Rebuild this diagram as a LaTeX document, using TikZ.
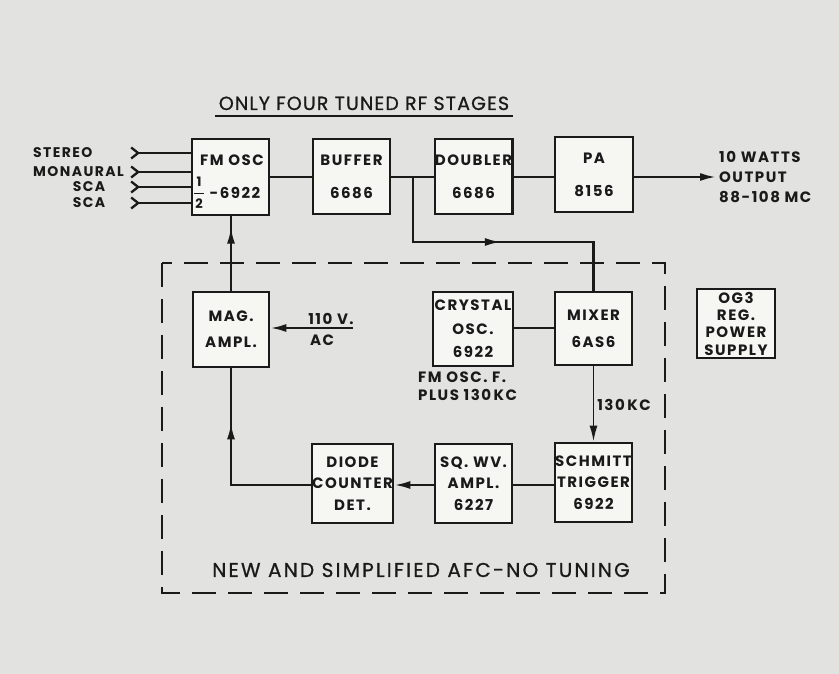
\documentclass[tikz,border=0pt]{standalone}
\usepackage{fontspec}
\setmainfont{Poppins}[LetterSpace=10]
\newfontfamily\titlefont{Poppins}[LetterSpace=6,FakeBold=0.8]
\newfontfamily\afcfont{Poppins}[LetterSpace=11,FakeBold=0.8]
\usetikzlibrary{arrows.meta,decorations.markings}
\definecolor{bg}{RGB}{226,226,224}
\definecolor{boxfill}{RGB}{246,246,243}
\definecolor{ink}{RGB}{26,26,26}
\begin{document}
\begin{tikzpicture}[x=1pt,y=-1pt,
  blk/.style={draw=ink,line width=2.8pt,fill=boxfill,inner sep=0pt,align=center,
    font=\bfseries\fontsize{15}{18}\selectfont,text=ink},
  wire/.style={draw=ink,line width=2.3pt},
  arrowend/.style={-{Latex[length=16pt,width=8pt]}},
  lbl/.style={font=\bfseries\fontsize{15}{18}\selectfont,text=ink,inner sep=0pt},
  inlbl/.style={font=\bfseries\fontsize{14}{16}\selectfont,text=ink,inner sep=0pt},
  midarrow/.style={postaction={decorate},decoration={markings,
    mark=at position #1 with {\arrow{Latex[length=16pt,width=8pt]}}}},
  dashbox/.style={draw=ink,line width=2.6pt,dash pattern=on 24pt off 12pt}
]
\fill[bg] (0,0) rectangle (839,674);
\useasboundingbox (0,0) rectangle (839,674);

% title
\node[text=ink,inner sep=0pt,font=\titlefont\fontsize{19}{21}\selectfont,anchor=base] (title) at (364,110) {ONLY FOUR TUNED RF STAGES};
\draw[wire,line width=1.8pt] (215,116) -- (513,116);

% RF chain
\node[blk,minimum width=77pt,minimum height=76pt] (fm) at (230.5,177) {};
\node[lbl] (fmt) at (232,160) {FM OSC};
\node[lbl,font=\bfseries\fontsize{13}{14}\selectfont] (fa) at (199,182) {1};
\node[lbl,font=\bfseries\fontsize{13}{14}\selectfont] (fb) at (199,204) {2};
\draw[wire,line width=1.6pt] (194,193.5) -- (204,193.5);
\node[lbl] (fmn) at (235,193) {-6922};

\node[blk,minimum width=77pt,minimum height=75pt] (buf) at (351.5,176.5) {BUFFER\\[15pt]6686};
\node[blk,minimum width=77pt,minimum height=75pt] (dbl) at (473.5,176.5) {DOUBLER\\[15pt]6686};
\node[blk,minimum width=78pt,minimum height=75pt] (pa) at (594,174.5) {PA\\[15pt]8156};

\coordinate (out) at (716,177);
\node[lbl,anchor=west,align=left,font=\bfseries\fontsize{15}{20}\selectfont] (outt) at (719,177) {10 WATTS\\OUTPUT\\88-108 MC};

% inputs
\coordinate (in1) at (130,153);
\coordinate (in2) at (130,172);
\coordinate (in3) at (130,187);
\coordinate (in4) at (130,203);
\node[inlbl,anchor=west] (l1) at (33,153) {STEREO};
\node[inlbl,anchor=west] (l2) at (33,172) {MONAURAL};
\node[inlbl] (l3) at (89,187) {SCA};
\node[inlbl] (l4) at (89,203) {SCA};
\foreach \i in {1,2,3,4}
  \draw[wire,{Straight Barb[reversed,length=7pt,width=11pt]}-] (in\i) -- (in\i -| fm.west);

\draw[wire] (fm.east |- 0,177) -- (buf.west |- 0,177);
\draw[wire] (buf.east |- 0,177) -- (dbl.west |- 0,177);
\draw[wire] (dbl.east |- 0,177) -- (pa.west |- 0,177);
\draw[wire,arrowend] (pa.east |- out) -- (out);

% AFC loop
\draw[dashbox] (162,263) rectangle (665,593);
\node[blk,minimum width=76pt,minimum height=75pt] (mag) at (231,329.5) {MAG.\\[8pt]AMPL.};
\node[blk,minimum width=80pt,minimum height=74pt] (xtal) at (473,329) {CRYSTAL\\[5.5pt]OSC.\\[5.5pt]6922};
\node[blk,minimum width=77pt,minimum height=73pt] (mix) at (593.5,328.5) {MIXER\\[9pt]6AS6};
\node[blk,minimum width=79pt,minimum height=79pt] (diode) at (352.5,483.5) {DIODE\\[3.5pt]COUNTER\\[3.5pt]DET.};
\node[blk,minimum width=77pt,minimum height=79pt] (sq) at (473.5,483.5) {SQ. WV.\\[3.5pt]AMPL.\\[3.5pt]6227};
\node[blk,minimum width=77pt,minimum height=79pt] (sch) at (593.5,482.5) {SCHMITT\\[3.5pt]TRIGGER\\[3.5pt]6922};
\node[blk,minimum width=78pt,minimum height=69pt] (ps) at (736,323.5) {OG3\\[-0.7pt]REG.\\[-0.7pt]POWER\\[-0.7pt]SUPPLY};

% branch to mixer
\coordinate (br) at (413,177);
\draw[wire,midarrow=0.52] (br) -- (413,242) -- (mix.north |- 0,242) -- (mix.north);

% mag ampl to fm osc
\draw[wire,midarrow=0.85] (mag.north) -- (fm.south -| mag.north);

% 110 V AC
\coordinate (ac) at (353,328);
\draw[wire,arrowend] (ac) -- (mag.east |- ac);
\node[lbl] (acv) at (331,319) {110 V.};
\node[lbl] (aca) at (322,340) {AC};

% crystal to mixer
\draw[wire] (xtal.east |- 0,328) -- (mix.west |- 0,328);
\node[lbl,anchor=west,align=left,font=\bfseries\fontsize{15}{18}\selectfont] (fmf) at (418,386) {FM OSC. F.\\PLUS 130\,KC};

% mixer to schmitt
\draw[wire,line width=1.8pt,arrowend] (mix.south) -- (sch.north -| mix.south);
\node[lbl] (kc) at (624,405) {130\,KC};

% schmitt -> sq -> diode
\draw[wire] (sch.west |- 0,485) -- (sq.east |- 0,485);
\draw[wire,arrowend] (sq.west |- 0,485) -- (diode.east |- 0,485);

% diode back to mag ampl
\draw[wire,midarrow=0.72] (diode.west |- 0,485) -- (mag.south |- 0,485) -- (mag.south);

\node[text=ink,inner sep=0pt,font=\afcfont\fontsize{20}{22}\selectfont] (afc) at (421,570) {NEW AND SIMPLIFIED AFC-NO TUNING};
\end{tikzpicture}
\end{document}
